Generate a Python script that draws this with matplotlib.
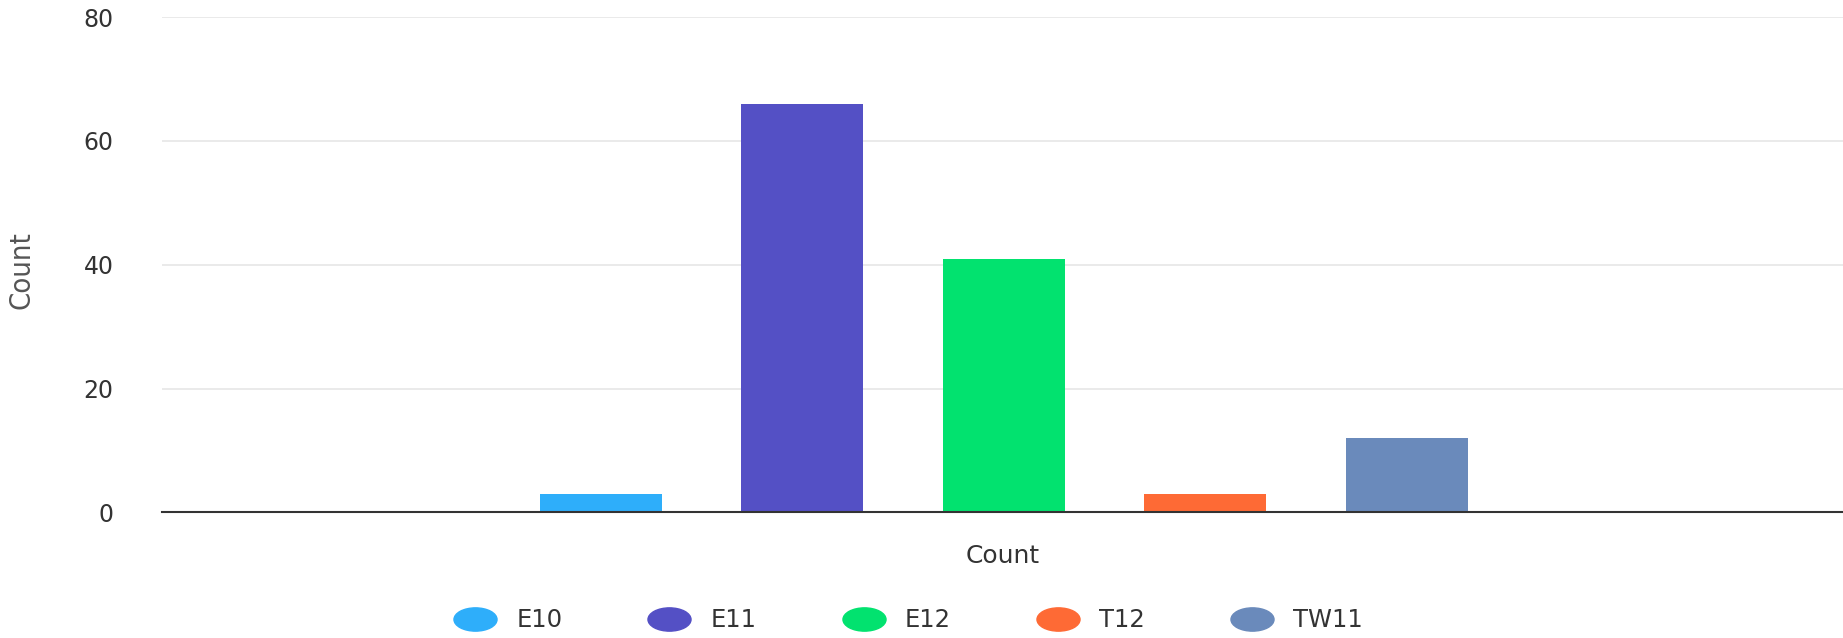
import matplotlib.pyplot as plt
from matplotlib.lines import Line2D
from matplotlib.path import Path
from matplotlib.transforms import Affine2D

# Data
series = ["E10", "E11", "E12", "T12", "TW11"]
counts = [3, 66, 41, 3, 12]
colors = ["#2eaefa", "#5450c5", "#02e26f", "#fe6a35", "#6a8abb"]
y_ticks = [0, 20, 40, 60, 80]

FONT = ["DejaVu Sans"]

fig = plt.figure(figsize=(18.43, 6.38), dpi=100)
ax = fig.add_axes([0.088, 0.197, 0.912, 0.776])

x = list(range(len(series)))
ax.bar(x, counts, width=0.606, color=colors, zorder=3)

ax.set_xlim(-2.175, 6.163)
ax.set_ylim(0, 80)
ax.set_yticks(y_ticks)
ax.set_xticks([])

ax.grid(axis="y", color="#e6e6e6", linewidth=1.2, zorder=0)
for s in ["top", "right", "left"]:
    ax.spines[s].set_visible(False)
ax.spines["bottom"].set_color("#333333")
ax.spines["bottom"].set_linewidth(1.5)
ax.spines["bottom"].set_zorder(4)

ax.tick_params(axis="y", length=0, pad=35, labelsize=17, labelcolor="#333333")
for lbl in ax.get_yticklabels():
    lbl.set_family(FONT)

ax.set_xlabel("Count", fontsize=18, color="#333333", family=FONT, labelpad=23)
fig.text(0.0114, 0.577, "Count", rotation=90, va="center", ha="center", fontsize=21,
         color="#555555", family=FONT, fontstretch="condensed")

# Legend with wide elliptical markers
ellipse = Path.unit_circle().transformed(Affine2D().scale(1.85, 1.0))
handles = [Line2D([], [], marker=ellipse, linestyle="", markersize=31, color=c) for c in colors]
fig.legend(handles, series, loc="center", bbox_to_anchor=(0.492, 0.028), ncol=5, frameon=False,
           prop={"family": FONT, "size": 17.5}, labelcolor="#333333",
           handlelength=2.0, handletextpad=0.7, columnspacing=3.4)

plt.savefig("out.png", dpi=100)
